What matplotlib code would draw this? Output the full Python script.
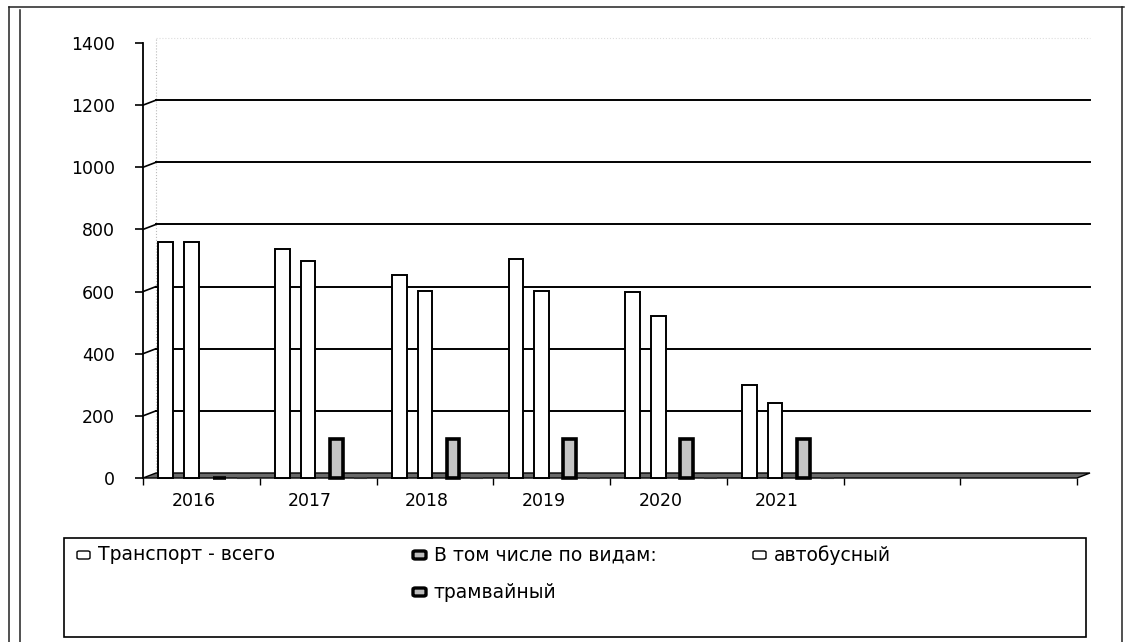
import matplotlib
matplotlib.use("Agg")
import matplotlib.pyplot as plt
from matplotlib.patches import Rectangle, Polygon, FancyBboxPatch
from matplotlib.lines import Line2D
import matplotlib.transforms as mtransforms

# ---------------- data ----------------
years = ['2016', '2017', '2018', '2019', '2020', '2021']
n_slots = 8  # two empty category slots at the right
total = [760, 737, 652, 705, 600, 298]       # Транспорт - всего
vtch = [0, 0, 0, 0, 0, 0]                     # В том числе по видам:
bus = [760, 698, 601, 602, 520, 240]          # автобусный
tram = [0, 125, 125, 125, 125, 125]           # трамвайный
series_names = ['Транспорт - всего', 'В том числе по видам:', 'автобусный', 'трамвайный']
y_ticks = [0, 200, 400, 600, 800, 1000, 1200, 1400]
gridlines = [200, 400, 600, 800, 1000, 1200]

plt.rcParams['font.family'] = ['DejaVu Sans']

W, H = 1132, 642
fig = plt.figure(figsize=(W / 100, H / 100), dpi=100)
fig.patch.set_facecolor('white')

def fx(px):
    return px / W

def fy(py):
    return 1 - py / H

ax = fig.add_axes([fx(143), fy(478), 934 / W, 435 / H])
ax.set_xlim(0, n_slots)
ax.set_ylim(0, 1400)
ax.set_facecolor('none')
for s in ['top', 'right', 'bottom']:
    ax.spines[s].set_visible(False)
ax.spines['left'].set_linewidth(1.3)
ax.spines['left'].set_color('black')

# 3D back-wall offset
dx, dy = 13, 5
off = ax.transData + mtransforms.ScaledTranslation(dx / 100, dy / 100, fig.dpi_scale_trans)

# back wall gridlines + slanted connectors
for v in gridlines:
    ax.plot([0, n_slots], [v, v], transform=off, color='black', lw=1.4, zorder=1,
            clip_on=False)
    p0 = ax.transData.transform((0, v))
    p1 = off.transform((0, v))
    ax.add_line(Line2D([p0[0], p1[0]], [p0[1], p1[1]], transform=None,
                       color='black', lw=1.2, zorder=1, clip_on=False))
# faint back-wall edges
ax.plot([0, 0], [0, 1400], transform=off, color='#bbbbbb', lw=0.8, ls=':', zorder=0,
        clip_on=False)
ax.plot([0, n_slots], [1400, 1400], transform=off, color='#dddddd', lw=0.8, ls=':',
        zorder=0, clip_on=False)

# floor (parallelogram)
pts_front = [ax.transData.transform((0, 0)), ax.transData.transform((n_slots, 0))]
pts_back = [off.transform((n_slots, 0)), off.transform((0, 0))]
floor = Polygon(pts_front + pts_back, closed=True, transform=None,
                facecolor='#6a6a6a', edgecolor='black', lw=1.0, zorder=2, clip_on=False)
ax.add_patch(floor)

# bars
x = list(range(len(years)))
w = 0.125
ax.bar([i + 0.195 for i in x], total, width=w, facecolor='white', edgecolor='black',
       lw=1.4, zorder=3, clip_on=False)
ax.bar([i + 0.415 for i in x], bus, width=w, facecolor='white', edgecolor='black',
       lw=1.4, zorder=3, clip_on=False)
ax.bar([i + 0.655 for i in x], tram, width=0.11, facecolor='#c4c4c4', edgecolor='black',
       lw=2.6, zorder=3, clip_on=False)
ax.bar([i + 0.86 for i in x], vtch, width=0.11, facecolor='#777777', edgecolor='#333333',
       lw=1.5, zorder=3, clip_on=False)

# y axis
ax.set_yticks(y_ticks)
ax.set_yticklabels([str(v) for v in y_ticks])
ax.tick_params(axis='y', direction='out', length=6, width=1.2, pad=14, labelsize=12.5,
               colors='black')

# x axis ticks at category boundaries, labels at centers shifted left
ax.set_xticks(range(n_slots + 1))
ax.set_xticklabels([])
ax.tick_params(axis='x', direction='out', length=5, width=1.0, colors='black')
lab_tr = ax.get_xaxis_transform() + mtransforms.ScaledTranslation(-8 / 100, -23 / 100,
                                                                   fig.dpi_scale_trans)
for i, yr in enumerate(years):
    ax.text(i + 0.5, 0, yr, transform=lab_tr, ha='center', va='center', fontsize=12.5)

# ---------------- frame ----------------
frame_lines = [
    ([9, 9], [7, 660]),
    ([20, 20], [10, 660]),
    ([9, 1124], [7, 7]),
    ([1122, 1122], [7, 660]),
]
for xs, ys in frame_lines:
    fig.add_artist(Line2D([fx(v) for v in xs], [fy(v) for v in ys],
                          transform=fig.transFigure, color='#222222', lw=1.1))

# ---------------- legend ----------------
fig.add_artist(Rectangle((fx(64), fy(637)), (1086 - 64) / W, (637 - 538) / H,
                         transform=fig.transFigure, facecolor='white',
                         edgecolor='black', lw=1.2))
leg_items = [
    (series_names[0], 77, 555, 'white', 'black'),
    (series_names[1], 413, 555, '#bbbbbb', 'black'),
    (series_names[2], 753, 555, 'white', 'black'),
    (series_names[3], 413, 592, '#bbbbbb', 'black'),
]
for name, mx, my, fc, ec in leg_items:
    lw = 1.0 if fc == 'white' else 2.4
    fig.add_artist(FancyBboxPatch((fx(mx), fy(my + 4)), 13 / W, 8 / H,
                                  boxstyle='round,pad=0,rounding_size=0.002',
                                  transform=fig.transFigure, facecolor=fc,
                                  edgecolor=ec, lw=lw))
    fig.text(fx(mx + 21), fy(my), name, ha='left', va='center', fontsize=13.5)

fig.savefig('out.png', dpi=100, facecolor='white')
